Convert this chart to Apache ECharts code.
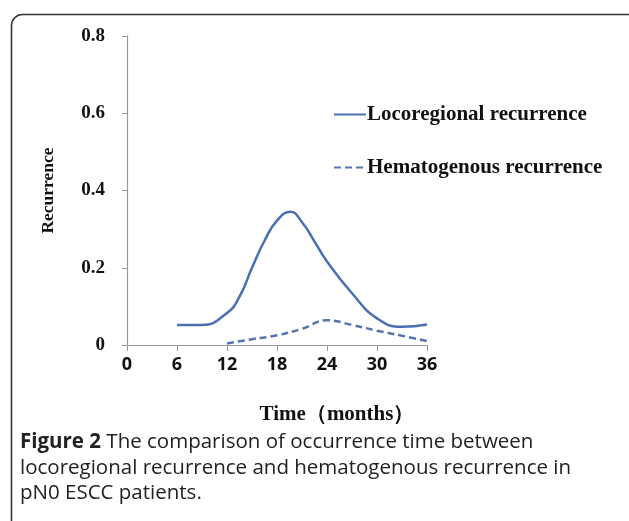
<!DOCTYPE html>
<html>
<head>
<meta charset="utf-8">
<script src="https://cdn.jsdelivr.net/npm/echarts@6/dist/echarts.min.js"></script>
<style>
html,body{margin:0;padding:0;background:#fff;}
#chart{width:629px;height:521px;}
</style>
</head>
<body>
<div id="chart"></div>
<script>
// Values (months, recurrence)
var locoMonths = [6, 9, 12, 13.5, 15, 16.5, 18, 19.6, 21, 22.5, 24, 27, 30, 33, 36];
var locoregional = [0.052, 0.052, 0.083, 0.125, 0.2, 0.27, 0.322, 0.345, 0.318, 0.268, 0.216, 0.134, 0.069, 0.047, 0.053];
var hemaMonths = [12, 15, 18, 21, 24, 27, 30, 33, 36];
var hematogenous = [0.004, 0.015, 0.025, 0.042, 0.064, 0.052, 0.037, 0.024, 0.01];
var xTicks = [0, 6, 12, 18, 24, 30, 36];
var yTicks = [0, 0.2, 0.4, 0.6, 0.8];
var seriesNames = ['Locoregional recurrence', 'Hematogenous recurrence'];
var captionLines = [
  ['Figure 2', ' The comparison of occurrence time between'],
  ['', 'locoregional recurrence and hematogenous recurrence in'],
  ['', 'pN0 ESCC patients.']
];

function pairs(xs, ys) { return xs.map(function (x, i) { return [x, ys[i]]; }); }

var chart = echarts.init(document.getElementById('chart'), null, {renderer: 'canvas'});
var blue = '#4a70b2';
var blue2 = '#5675ad';
var serif = '"Liberation Serif", "Times New Roman", serif';
var sans = '"Open Sans", "Noto Sans", sans-serif';

var captionGraphics = captionLines.map(function (ln, i) {
  return {
    type: 'text', left: 20, top: 432 + i * 25.5,
    style: {
      rich: {
        b: {fontFamily: sans, fontWeight: 'bold', fontSize: 20.5, fill: '#222'},
        n: {fontFamily: sans, fontWeight: 'normal', fontSize: 20.5, fill: '#222'}
      },
      text: (ln[0] ? '{b|' + ln[0] + '}' : '') + '{n|' + ln[1] + '}'
    }
  };
});

chart.setOption({
  animation: false,
  backgroundColor: '#fff',
  grid: {left: 127, right: 202, top: 36, bottom: 176, containLabel: false},
  legend: {
    orient: 'vertical', left: 328, top: 99, itemGap: 32,
    itemWidth: 32, itemHeight: 14,
    itemStyle: {opacity: 0},
    textStyle: {fontFamily: serif, fontWeight: 'bold', fontSize: 21, color: '#111', padding: [0, 0, 0, -4]},
    data: seriesNames
  },
  xAxis: {
    type: 'value', min: xTicks[0], max: xTicks[xTicks.length - 1], interval: 6,
    name: 'Time（months）', nameLocation: 'middle', nameGap: 59,
    nameTextStyle: {fontFamily: serif, fontWeight: 'bold', fontSize: 21, color: '#111', padding: [0, 0, 0, 120]},
    axisLine: {lineStyle: {color: '#999', width: 1.2}},
    axisTick: {show: true, length: 6, lineStyle: {color: '#999'}},
    axisLabel: {fontFamily: sans, fontWeight: 'bold', fontSize: 18, color: '#111', margin: 11},
    splitLine: {show: false}
  },
  yAxis: {
    type: 'value', min: yTicks[0], max: yTicks[yTicks.length - 1], interval: 0.2,
    name: 'Recurrence', nameLocation: 'middle', nameGap: 70, nameRotate: 90,
    nameTextStyle: {fontFamily: serif, fontWeight: 'bold', fontSize: 17.5, color: '#111'},
    axisLine: {show: true, lineStyle: {color: '#999', width: 1.2}},
    axisTick: {show: true, length: 5, lineStyle: {color: '#999'}},
    axisLabel: {fontFamily: serif, fontWeight: 'bold', fontSize: 19, color: '#111', margin: 22,
      formatter: function (v) { return v === 0 ? '0' : v.toFixed(1); }},
    splitLine: {show: false}
  },
  series: [
    {
      name: seriesNames[0], type: 'line', smooth: 0.5, symbol: 'none',
      data: pairs(locoMonths, locoregional),
      lineStyle: {color: blue, width: 2.5, type: 'solid'},
      itemStyle: {color: blue}
    },
    {
      name: seriesNames[1], type: 'line', smooth: 0.45, symbol: 'none',
      data: pairs(hemaMonths, hematogenous),
      lineStyle: {color: blue2, width: 2.5, type: [7, 4]},
      itemStyle: {color: blue2}
    }
  ],
  graphic: [
    {type: 'rect', left: 9, top: 12, shape: {width: 660, height: 560, r: 11},
     style: {fill: 'none', stroke: '#333', lineWidth: 1.6}, z: 100}
  ].concat(captionGraphics)
});
</script>
</body>
</html>
